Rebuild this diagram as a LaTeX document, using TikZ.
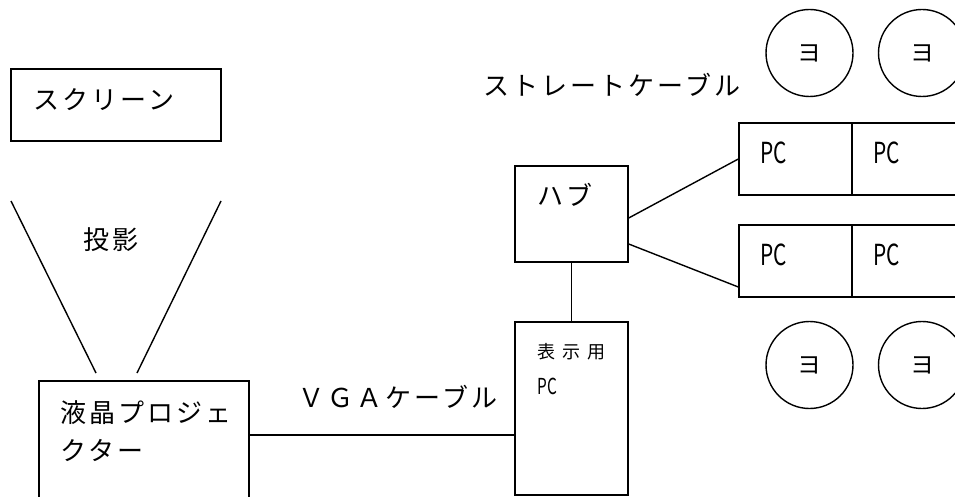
\documentclass[tikz,border=0pt]{standalone}
\usepackage{fontspec}
\usepackage{graphicx}
\setmainfont{Noto Sans CJK JP}
\usetikzlibrary{positioning}

\begin{document}
\begin{tikzpicture}[x=1pt, y=-1pt, line width=1.4pt,
	box/.style={draw, rectangle, inner sep=0pt},
	cir/.style={draw, circle, inner sep=0pt, minimum size=87pt, font=\fontsize{24}{24}\selectfont},
	jp/.style={font=\fontsize{26}{26}\selectfont\addfontfeature{LetterSpace=11.5}, inner sep=0pt, anchor=west},
	pctext/.style={font=\fontsize{29}{29}\selectfont, inner sep=0pt, anchor=west}]
	\clip (0,0) rectangle (955,497);
	
	% screen and projection
	\node[box, minimum width=210pt, minimum height=72pt] (screen) at (116,105) {};
	\node[jp] (screenl) at (33,100) {スクリーン};
	\coordinate (pl1) at (11,201);
	\coordinate (pl2) at (96,373);
	\coordinate (pr1) at (221,201);
	\coordinate (pr2) at (137,373);
	\draw (pl1) -- (pl2);
	\draw (pr1) -- (pr2);
	\node[jp] (projectl) at (83,240) {投影};
	
	% projector
	\node[box, minimum width=210pt, minimum height=139pt] (proj) at (144,450.5) {};
	\node[jp] (projl1) at (60,413) {液晶プロジェ};
	\node[jp] (projl2) at (60,450) {クター};
	
	% display pc and hub
	\node[box, minimum width=113pt, minimum height=173pt] (dpc) at (571.5,408.5) {};
	\node[jp, font=\fontsize{18}{18}\selectfont\addfontfeature{LetterSpace=39}] (dpcl) at (537,352) {表示用};
	\node[pctext, font=\fontsize{22}{22}\selectfont] (dpcpc) at (537,386) {\scalebox{0.7}[1]{PC}};
	\node[box, minimum width=113pt, minimum height=96pt] (hub) at (571.5,214) {};
	\node[jp] (hubl) at (537,195) {ハブ};
	\draw (hub.south) -- (dpc.north);
	
	\coordinate (vga) at (0,435);
	\draw (proj.east |- vga) -- (dpc.west |- vga);
	\node[jp] (vgal) at (298,397) {ＶＧＡケーブル};
	\node[jp] (cablel) at (483,85) {ストレートケーブル};
	
	% client pcs
	\foreach \r/\y in {1/159, 2/261} {
		\node[box, minimum width=113pt, minimum height=72pt] (pc\r a) at (795.5,\y) {};
		\node[box, minimum width=113pt, minimum height=72pt] (pc\r b) at (908.5,\y) {};
		\node[pctext] (pc\r al) at (760,\y-6) {\scalebox{0.72}[1]{PC}};
		\node[pctext] (pc\r bl) at (873,\y-6) {\scalebox{0.72}[1]{PC}};
	}
	\draw ([yshift=-4pt]hub.east) -- (pc1a.west);
	\draw ([yshift=-30pt]hub.east) -- ([yshift=-26pt]pc2a.west);
	
	% seats
	\foreach \n/\x/\y in {1/809.5/53, 2/922/53, 3/809.5/365, 4/922/365}
		\node[cir] (seat\n) at (\x,\y) {ヨ};
\end{tikzpicture}
\end{document}
